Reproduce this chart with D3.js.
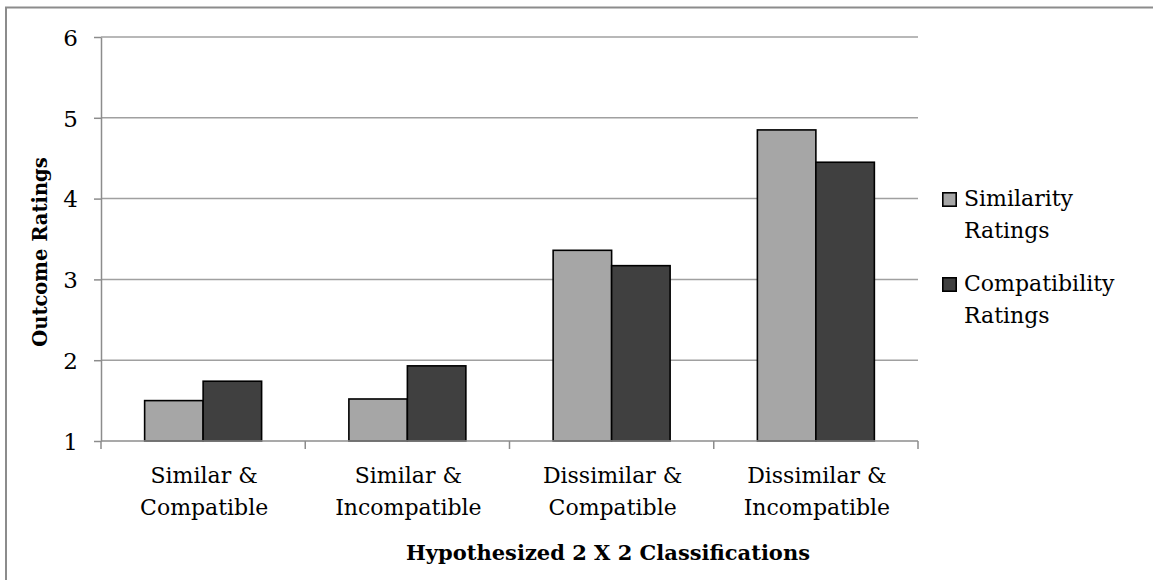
<!DOCTYPE html>
<html>
<head>
<meta charset="utf-8">
<script src="https://cdn.jsdelivr.net/npm/d3@7"></script>
<style>
  html, body { margin: 0; padding: 0; background: #fff; }
  svg { display: block; }
  text { font-family: "DejaVu Serif", "Liberation Serif", serif; fill: #000; }
</style>
</head>
<body>
<svg id="chart" width="1153" height="580"></svg>
<script>
// Mean ratings per hypothesized classification
const categories = [
  ["Similar &", "Compatible"],
  ["Similar &", "Incompatible"],
  ["Dissimilar &", "Compatible"],
  ["Dissimilar &", "Incompatible"]
];
const seriesNames = [["Similarity", "Ratings"], ["Compatibility", "Ratings"]];
const similarityRatings = [1.50, 1.52, 3.36, 4.85];
const compatibilityRatings = [1.74, 1.93, 3.17, 4.45];
const yTicks = [1, 2, 3, 4, 5, 6];
const xTitle = "Hypothesized 2 X 2 Classifications";
const yTitle = "Outcome Ratings";

const seriesValues = [similarityRatings, compatibilityRatings];
const colors = ["#a6a6a6", "#404040"];

const svg = d3.select("#chart");
const plot = { left: 101, right: 918, top: 37, bottom: 441 };

// outer chart frame
svg.append("rect")
  .attr("x", 6).attr("y", 7.5)
  .attr("width", 1200).attr("height", 700)
  .attr("fill", "none").attr("stroke", "#8c8c8c").attr("stroke-width", 2);

const x = d3.scaleBand()
  .domain(d3.range(categories.length))
  .range([plot.left, plot.right])
  .paddingInner(0).paddingOuter(0);

const xSub = d3.scaleBand()
  .domain(d3.range(seriesValues.length))
  .range([0, x.bandwidth()])
  .paddingInner(0).paddingOuter(0.746);

const y = d3.scaleLinear().domain([1, 6]).range([plot.bottom, plot.top]);

// horizontal gridlines
svg.append("g").selectAll("line")
  .data(yTicks.filter(d => d > 1))
  .join("line")
  .attr("x1", plot.left).attr("x2", plot.right)
  .attr("y1", d => y(d)).attr("y2", d => y(d))
  .attr("stroke", "#a0a0a0").attr("stroke-width", 1.5);

// y axis
const yAxis = svg.append("g")
  .attr("transform", `translate(${plot.left},0)`)
  .call(d3.axisLeft(y).tickValues(yTicks).tickFormat(d3.format("d")).tickSizeInner(7).tickSizeOuter(0).tickPadding(16));
yAxis.select(".domain").attr("stroke", "#8c8c8c").attr("stroke-width", 1.5);
yAxis.selectAll(".tick line").attr("stroke", "#8c8c8c").attr("stroke-width", 1.5);
yAxis.selectAll(".tick text")
  .attr("font-family", "DejaVu Serif").attr("font-size", 23).attr("fill", "#000")
  .attr("dy", "0.36em");

// bars
const groups = svg.append("g").selectAll("g")
  .data(categories.map((c, i) => i))
  .join("g")
  .attr("transform", i => `translate(${x(i)},0)`);

groups.selectAll("rect")
  .data(i => seriesValues.map((vals, s) => ({ s, v: vals[i] })))
  .join("rect")
  .attr("x", d => xSub(d.s))
  .attr("width", xSub.bandwidth())
  .attr("y", d => y(d.v))
  .attr("height", d => y(1) - y(d.v))
  .attr("fill", d => colors[d.s])
  .attr("stroke", "#000").attr("stroke-width", 1.6);

// x axis line and category ticks
const xAxisG = svg.append("g");
xAxisG.append("line")
  .attr("x1", plot.left).attr("x2", plot.right)
  .attr("y1", plot.bottom).attr("y2", plot.bottom)
  .attr("stroke", "#8c8c8c").attr("stroke-width", 1.5);
xAxisG.selectAll("line.tick")
  .data(d3.range(categories.length + 1))
  .join("line").attr("class", "tick")
  .attr("x1", i => plot.left + i * x.step()).attr("x2", i => plot.left + i * x.step())
  .attr("y1", plot.bottom).attr("y2", plot.bottom + 8)
  .attr("stroke", "#8c8c8c").attr("stroke-width", 1.5);

// category labels (two lines each)
const catLabels = svg.append("g").selectAll("text")
  .data(categories)
  .join("text")
  .attr("text-anchor", "middle")
  .attr("font-size", 22)
  .attr("transform", (d, i) => `translate(${x(i) + x.bandwidth() / 2 + 1},483)`);
catLabels.selectAll("tspan")
  .data(d => d)
  .join("tspan")
  .attr("x", 0)
  .attr("y", (d, j) => j * 32)
  .text(d => d);

// axis titles
svg.append("text")
  .attr("x", 608).attr("y", 560)
  .attr("text-anchor", "middle")
  .attr("font-weight", "bold").attr("font-size", 21)
  .text(xTitle);

svg.append("text")
  .attr("transform", "translate(47,252) rotate(-90)")
  .attr("text-anchor", "middle")
  .attr("font-weight", "bold").attr("font-size", 19.5)
  .text(yTitle);

// legend
const legend = svg.append("g").attr("transform", "translate(942,0)");
const legendTop = [192, 277];
const items = legend.selectAll("g")
  .data(seriesNames)
  .join("g")
  .attr("transform", (d, i) => `translate(0,${legendTop[i]})`);
items.append("rect")
  .attr("x", 0.8).attr("y", 0.8)
  .attr("width", 13.4).attr("height", 13.4)
  .attr("fill", (d, i) => colors[i])
  .attr("stroke", "#000").attr("stroke-width", 1.6);
const lt = items.append("text")
  .attr("font-size", 22);
lt.selectAll("tspan")
  .data(d => d)
  .join("tspan")
  .attr("x", 22)
  .attr("y", (d, j) => 14 + j * 32)
  .text(d => d);
</script>
</body>
</html>
